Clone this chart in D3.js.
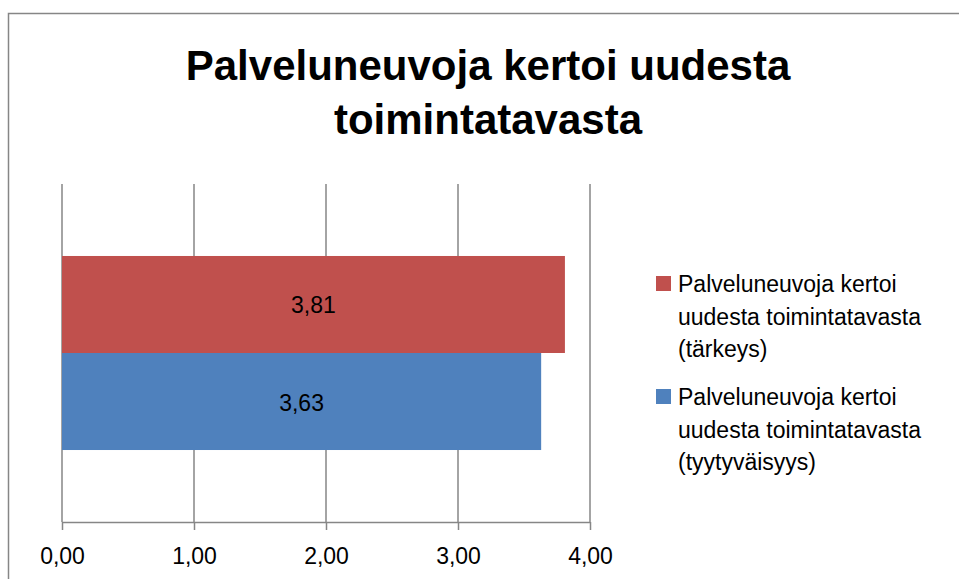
<!DOCTYPE html>
<html>
  <head>
    <meta charset="utf-8" />
    <script src="https://d3js.org/d3.v7.min.js"></script>
    <style>
      body { margin: 0; background: #fff; }
      svg { display: block; font-family: "Liberation Sans", Arial, sans-serif; }
    </style>
  </head>
  <body>
    <svg id="chart"></svg>
    <script>
      // data
      const titleLines = ["Palveluneuvoja kertoi uudesta", "toimintatavasta"];
      const category = ["Palveluneuvoja kertoi uudesta toimintatavasta"];
      const seriesNames = ["tärkeys", "tyytyväisyys"];
      const seriesValues = [3.81, 3.63];
      const seriesColors = ["#C0504D", "#4F81BD"];
      const xTicks = [0, 1, 2, 3, 4];
      const legendLines = [
        ["Palveluneuvoja kertoi", "uudesta toimintatavasta", "(tärkeys)"],
        ["Palveluneuvoja kertoi", "uudesta toimintatavasta", "(tyytyväisyys)"]
      ];

      const fmt = v => d3.format(".2f")(v).replace(".", ",");

      const svg = d3.select("#chart").attr("width", 959).attr("height", 579);

      // outer border
      svg.append("rect")
        .attr("x", 8.5).attr("y", 13.5)
        .attr("width", 980).attr("height", 600)
        .attr("fill", "none").attr("stroke", "#868686").attr("stroke-width", 1.5);

      // title
      svg.append("g").selectAll("text")
        .data(titleLines)
        .join("text")
        .attr("x", 488)
        .attr("y", (d, i) => 80 + i * 54)
        .attr("text-anchor", "middle")
        .attr("font-weight", "bold")
        .attr("font-size", 42)
        .attr("fill", "#000")
        .text(d => d);

      const x = d3.scaleLinear().domain([0, 4]).range([62, 590]);
      const y = d3.scaleBand().domain(category).range([184, 522]).paddingInner(0).paddingOuter(0.371);
      const y2 = d3.scaleBand().domain(seriesNames).range([y(category[0]), y(category[0]) + y.bandwidth()]);

      // gridlines
      svg.append("g").selectAll("line")
        .data(xTicks)
        .join("line")
        .attr("x1", d => x(d)).attr("x2", d => x(d))
        .attr("y1", 184).attr("y2", 522)
        .attr("stroke", "#868686").attr("stroke-width", 1.5);

      // bars
      svg.append("g").selectAll("rect")
        .data(seriesValues)
        .join("rect")
        .attr("x", x(0))
        .attr("y", (d, i) => y2(seriesNames[i]))
        .attr("width", d => x(d) - x(0))
        .attr("height", y2.bandwidth())
        .attr("fill", (d, i) => seriesColors[i]);

      // data labels
      svg.append("g").selectAll("text")
        .data(seriesValues)
        .join("text")
        .attr("x", d => (x(d) + x(0)) / 2)
        .attr("y", (d, i) => y2(seriesNames[i]) + y2.bandwidth() / 2 + 9)
        .attr("text-anchor", "middle")
        .attr("font-size", 23)
        .attr("fill", "#000")
        .text(d => fmt(d));

      // x axis
      const xAxis = svg.append("g")
        .attr("transform", "translate(0,522)")
        .call(d3.axisBottom(x).tickValues(xTicks).tickFormat(fmt).tickSize(8).tickPadding(18));
      xAxis.select(".domain").attr("stroke", "#868686").attr("stroke-width", 1.5).attr("d", "M62,0.5H590");
      xAxis.selectAll(".tick line").attr("stroke", "#868686").attr("stroke-width", 1.5);
      xAxis.selectAll(".tick text")
        .attr("font-family", "Liberation Sans, Arial, sans-serif")
        .attr("font-size", 23).attr("fill", "#000");

      // legend
      const legend = svg.append("g").selectAll("g")
        .data(legendLines)
        .join("g")
        .attr("transform", (d, i) => `translate(656,${276 + i * 113})`);
      legend.append("rect")
        .attr("width", 15).attr("height", 15)
        .attr("fill", (d, i) => seriesColors[i]);
      legend.append("text")
        .attr("font-size", 23)
        .attr("fill", "#000")
        .selectAll("tspan")
        .data(d => d)
        .join("tspan")
        .attr("x", 22)
        .attr("y", (d, i) => 16 + i * 32.5)
        .text(d => d);
    </script>
  </body>
</html>
